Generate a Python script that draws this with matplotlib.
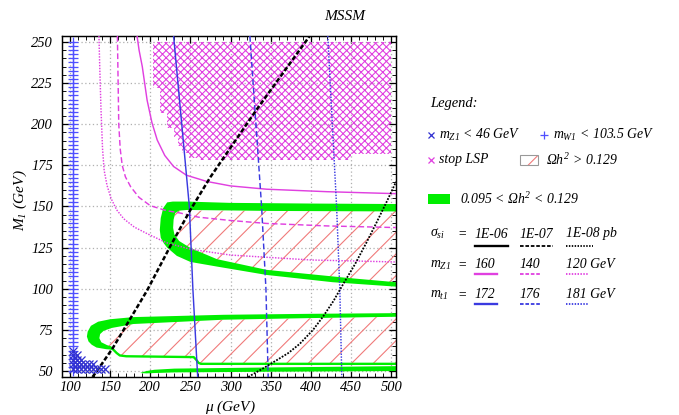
import numpy as np
import matplotlib
matplotlib.use('Agg')
import matplotlib.pyplot as plt
from matplotlib.patches import Rectangle

plt.rcParams['font.family'] = 'Liberation Serif'
plt.rcParams['font.style'] = 'italic'
plt.rcParams['mathtext.fontset'] = 'custom'
plt.rcParams['mathtext.rm'] = 'Liberation Serif:italic'
plt.rcParams['mathtext.it'] = 'Liberation Serif:italic'
plt.rcParams['mathtext.sf'] = 'Liberation Serif'
plt.rcParams['hatch.linewidth'] = 0.6

# --- data (mu, M1 in GeV) ---
# m_Z1 contours
mz160_mu = [183.5, 186, 190, 196, 202, 208.6, 218, 229, 245, 270.5, 300, 345, 420, 506]
mz160_m1 = [253.6, 245, 235, 214.6, 201, 190.4, 181, 174.3, 169, 165.2, 162.5, 160.5, 159, 157.8]
mz140_mu = [159, 160.7, 162.5, 165, 169, 175.5, 186, 200, 220, 237.5, 260, 300, 345, 420, 506]
mz140_m1 = [253.6, 200, 185, 175, 168, 162, 155.5, 150.5, 147.5, 146, 143.5, 141.5, 139.7, 138.2, 137.2]
mz120_mu = [136, 137, 138.5, 140.5, 142.5, 146, 151, 158, 167, 180, 196, 220, 250, 300, 400, 506]
mz120_m1 = [253.6, 235, 210, 185, 172, 163, 155, 148, 142.5, 137.5, 133.5, 128, 124, 120.5, 117.5, 116.3]

# m_t1 contours
mt172_mu = [229, 248.6, 253, 259]
mt172_m1 = [253.6, 150, 100, 46.4]
mt176_mu = [324, 338.6, 344, 346.8]
mt176_m1 = [253.6, 150, 100, 46.4]
mt181_mu = [421, 432, 436, 438.5]
mt181_m1 = [253.6, 150, 100, 46.4]

# sigma_si contours
sig7_mu = [128, 134.3, 153, 196, 225, 250, 275, 332, 398.5]
sig7_m1 = [46.4, 50.6, 63.8, 99, 126, 148, 168, 208.6, 253.6]
sig8_mu = [322, 326, 340, 357, 372, 386, 402.6, 415, 428, 439.8, 455, 468.7, 482, 495.5, 506]
sig8_m1 = [46.4, 47.6, 51.5, 56.5, 61, 66.5, 75, 83, 92.5, 102.5, 115, 127.6, 140.5, 154, 165]

# 0.095 < Omega h^2 < 0.129 bands
upperC_mu = [506, 400, 300, 245, 228, 221, 216, 213, 211.8, 213, 217, 221, 233, 250, 283, 345, 427, 506,
             506, 448, 345, 283, 250, 236, 230, 228.4, 229, 231, 236, 245.7, 350, 506]
upperC_m1 = [151.5, 151.8, 152.2, 153, 153, 152.5, 149, 143, 135.7, 131, 127.5, 125, 120, 116.3, 113.5, 108.4, 104, 101.3,
             104, 106.5, 111.5, 118, 124.8, 129, 133, 137, 142, 146, 147.5, 147.9, 147.3, 147]
lowerC_mu = [506, 400, 291, 179, 150, 135, 126, 122, 121, 123, 127, 133, 145, 153,
             153, 146, 139, 136.5, 137.5, 142, 152, 179, 291, 400, 506]
lowerC_m1 = [85.2, 84.8, 84.2, 82.8, 81.5, 80, 77.5, 74, 71, 68, 66, 64.3, 63.3, 63,
             64.6, 65.8, 67.5, 70, 72.5, 74.5, 76.2, 78.6, 81.2, 82.2, 83]
thin_mu = [150, 154, 158, 162, 170, 254, 257, 260, 263, 506]
thin_m1 = [64.2, 63, 61, 59.5, 59, 58.5, 57, 55, 54.4, 54.4]
bottom_mu = [188, 195, 205, 230, 350, 506, 506, 350, 230, 205, 195, 188]
bottom_m1 = [49, 50, 50.8, 51.5, 52.2, 53, 50, 49.6, 49.2, 48.8, 48.6, 48.8]

# Omega h^2 > 0.129 (hatched)
over1_mu = [231, 506, 506, 345, 250, 233, 228]
over1_m1 = [147.5, 147.5, 103, 110, 120, 127, 137]
over2_mu = [138, 142, 152, 179, 291, 506, 506, 263, 257, 254, 170, 162, 153, 145, 139]
over2_m1 = [71, 74.5, 76.2, 78.6, 81.2, 83, 54.4, 54.4, 57, 58.5, 59, 59.5, 63.5, 66, 68]

# stop LSP region
stop_mu = [203.6, 203.6, 211.8, 211.8, 220.3, 220.3, 229, 229, 234, 234, 240, 240, 248, 248, 258, 258,
           450, 450, 500, 500]
stop_m1 = [250, 221.8, 221.8, 206.6, 206.6, 197.5, 197.5, 192, 192, 187, 187, 182.5, 182.5, 179.5, 179.5, 178.2,
           178.2, 182, 182, 250]

# m_W1 < 103.5 GeV points and m_Z1 < 46 GeV points
w1_mu = 103.5
w1_m1 = np.arange(50, 250.1, 2.5)
z1_mu = [104, 109, 114, 119, 124, 129, 134, 139, 144,
         104, 109, 114, 119, 124, 129,
         104, 109, 114,
         104, 109,
         104]
z1_m1 = [51] * 9 + [54] * 6 + [57] * 3 + [60] * 2 + [62]

xticks = [100, 150, 200, 250, 300, 350, 400, 450, 500]
yticks = [50, 75, 100, 125, 150, 175, 200, 225, 250]

magenta = '#e040e0'
blue = '#3a3ae0'
green = '#00ee00'
red = '#f07878'

W, H = 679, 415
fig = plt.figure(figsize=(W / 130, H / 130), dpi=130)

# legend canvas in pixel units
lax = fig.add_axes([0, 0, 1, 1])
lax.set_xlim(0, W)
lax.set_ylim(H, 0)
lax.axis('off')

ax = fig.add_axes([62 / W, 1 - 377 / H, (396 - 62) / W, (377 - 36) / H])
ax.set_xlim(91.3, 506)
ax.set_ylim(46.4, 253.6)
ax.set_xticks(xticks)
ax.set_yticks(yticks)
ax.set_xticks(np.arange(90, 507, 10), minor=True)
ax.set_yticks(np.arange(50, 254, 5), minor=True)
ax.tick_params(which='both', direction='in', top=True, right=True, labelsize=8)
ax.tick_params(which='major', length=4, width=0.7)
ax.tick_params(which='minor', length=2, width=0.5)
ax.tick_params(axis='x', pad=2)
ax.tick_params(axis='y', pad=5)
ax.grid(True, which='major', color='#b0b0b0', lw=0.7, linestyle=(0, (1, 2)))
ax.set_axisbelow(True)
for s in ax.spines.values():
    s.set_linewidth(0.8)

# hatched regions
ax.fill(stop_mu, stop_m1, facecolor='none', edgecolor=magenta, hatch='xxxxxx', lw=0, zorder=1)
ax.fill(over1_mu, over1_m1, facecolor='none', edgecolor=red, hatch='//', lw=0, zorder=1)
ax.fill(over2_mu, over2_m1, facecolor='none', edgecolor=red, hatch='//', lw=0, zorder=1)

# green bands
ax.fill(upperC_mu, upperC_m1, color=green, lw=0, zorder=2)
ax.fill(lowerC_mu, lowerC_m1, color=green, lw=0, zorder=2)
ax.fill(bottom_mu, bottom_m1, color=green, lw=0, zorder=2)
ax.plot(thin_mu, thin_m1, color=green, lw=1.3, zorder=2)

# contours
ax.plot(mz160_mu, mz160_m1, color=magenta, lw=0.8, zorder=3)
ax.plot(mz140_mu, mz140_m1, color=magenta, lw=0.8, ls=(0, (4, 2)), zorder=3)
ax.plot(mz120_mu, mz120_m1, color=magenta, lw=0.8, ls=(0, (1, 1)), zorder=3)
ax.plot(mt172_mu, mt172_m1, color=blue, lw=0.8, zorder=3)
ax.plot(mt176_mu, mt176_m1, color=blue, lw=0.8, ls=(0, (4, 2)), zorder=3)
ax.plot(mt181_mu, mt181_m1, color=blue, lw=0.8, ls=(0, (1, 1)), zorder=3)
ax.plot(sig7_mu, sig7_m1, color='black', lw=1.4, ls=(0, (1.8, 0.9)), zorder=3)
ax.plot(sig8_mu, sig8_m1, color='black', lw=1.0, ls=(0, (1, 0.8)), zorder=3)

# excluded points
ax.plot([w1_mu] * len(w1_m1), w1_m1, ls='none', marker='+', ms=5.5, mew=0.7, color='#5050ff', zorder=4)
ax.plot(z1_mu, z1_m1, ls='none', marker='x', ms=4.5, mew=0.7, color='#3030d0', zorder=4)

fig.text(345 / W, 1 - 16 / H, 'MSSM', ha='center', va='center', fontsize=8.5)
fig.text(20 / W, 1 - 200 / H, r'$M_1$ (GeV)', rotation=90, ha='center', va='center', fontsize=8.5)
fig.text(230 / W, 1 - 407 / H, r'$\mathsf{μ}$ (GeV)', ha='center', va='center', fontsize=8.5)

# legend
fs = 7.6
lax.text(430, 104, 'Legend:', fontsize=8, va='center')
lax.plot([431], [135], marker='x', ms=3.5, mew=0.7, color='#3030d0')
lax.text(439, 135, r'$m_{Z1}$ < 46 GeV', fontsize=fs, va='center')
lax.plot([544], [135], marker='+', ms=4, mew=0.7, color='#5050ff')
lax.text(553, 135, r'$m_{W1}$ < 103.5 GeV', fontsize=fs, va='center')
lax.plot([431], [160], marker='x', ms=3.5, mew=0.7, color=magenta)
lax.text(439, 160, 'stop LSP', fontsize=fs, va='center')
lax.add_patch(Rectangle((520, 155), 18, 10, facecolor='none', edgecolor=red, hatch='//', lw=0))
lax.add_patch(Rectangle((520, 155), 18, 10, facecolor='none', edgecolor='#999999', lw=0.6))
lax.text(546, 160, r'$\mathsf{Ω}h^2$ > 0.129', fontsize=fs, va='center')
lax.add_patch(Rectangle((428, 194), 22, 10, facecolor=green, edgecolor='none'))
lax.text(460, 199, r'0.095 < $\mathsf{Ω}h^2$ < 0.129', fontsize=fs, va='center')

rows = [
    (234, r'$\mathsf{σ}_{si}$', ['1E-06', '1E-07', '1E-08 pb'], 'black', 246, [33, 33, 27]),
    (265, r'$m_{Z1}$', ['160', '140', '120 GeV'], magenta, 274, [22, 21, 22]),
    (295, r'$m_{t1}$', ['172', '176', '181 GeV'], blue, 304, [22, 21, 22]),
]
styles = ['-', (0, (2, 1)), (0, (0.8, 0.8))]
cols = [475, 520, 566]
for y, name, vals, c, uy, widths in rows:
    lax.text(430, y, name, fontsize=fs, va='center')
    lax.text(457, y, '=', fontsize=fs, va='center')
    for x0, v, st, wd in zip(cols, vals, styles, widths):
        lax.text(x0, y, v, fontsize=fs, va='center')
        lax.plot([x0, x0 + wd], [uy, uy], color=c, ls=st, lw=1.3 if st == '-' else 1.0)

fig.savefig('out.png', dpi=130)
